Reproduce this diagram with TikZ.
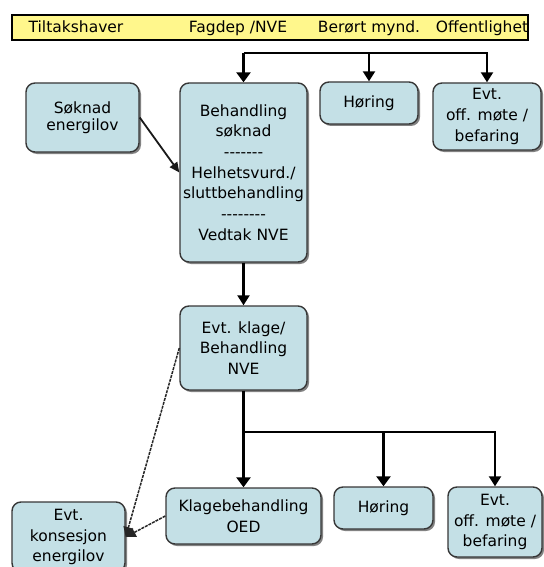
\documentclass[tikz,border=0pt]{standalone}
\usepackage{fontspec}
\setmainfont{DejaVu Sans}[Ligatures=TeXOff]
\usetikzlibrary{arrows.meta,shadows}
\definecolor{boxfill}{RGB}{196,224,230}
\definecolor{boxline}{RGB}{55,55,55}
\definecolor{hdrfill}{RGB}{255,247,140}
\definecolor{shadowc}{RGB}{130,130,130}
\newcommand{\dfont}{\fontsize{15.5}{20.7}\selectfont}
\tikzset{
  box/.style={draw=boxline, line width=1.4pt, fill=boxfill, rounded corners=9pt,
    align=center, inner sep=0pt, font=\dfont,
    drop shadow={shadow xshift=2pt, shadow yshift=-2pt, fill=shadowc, opacity=1}},
  hdrbox/.style={draw=black, line width=1.4pt, fill=hdrfill, inner sep=0pt},
  hdrtext/.style={font=\dfont, anchor=base, inner sep=0pt},
  thickconn/.style={line width=2.8pt, -{Triangle[width=14pt,length=10pt]}},
  medconn/.style={line width=2.2pt, -{Triangle[width=12pt,length=10pt]}},
  thinconn/.style={line width=1.8pt, draw=black!90, -{Triangle[width=9pt,length=10pt]}},
  dotconn/.style={line width=1.5pt, draw=black!85, dash pattern=on 3pt off 1pt, -{Triangle[width=10pt,length=10pt]}}
}
\begin{document}
\begin{tikzpicture}[x=1pt,y=-1pt]
\useasboundingbox (0,0) rectangle (543,567);
% header
\node[hdrbox, minimum width=516pt, minimum height=25pt] (hdr) at (270,27.5) {};
\node[hdrtext] (h1) at (76,33) {Tiltakshaver};
\node[hdrtext] (h2) at (238,33) {Fagdep /NVE};
\node[hdrtext] (h3) at (369,33) {Berørt mynd.};
\node[hdrtext] (h4) at (482,33) {Offentlighet};
% boxes
\node[box, minimum width=113pt, minimum height=69pt, font=\fontsize{15.5}{17}\selectfont] (son) at (82.5,117.5) {Søknad\\energilov};
\node[box, minimum width=127pt, minimum height=179pt] (beh) at (243.5,172.5) {Behandling\\søknad\\-------\\Helhetsvurd./\\sluttbehandling\\--------\\Vedtak NVE};
\node[box, minimum width=98pt, minimum height=42pt] (hor1) at (369,103) {Høring};
\node[box, minimum width=108pt, minimum height=67pt] (evt1) at (487,116.5) {Evt.\\off. møte /\\befaring};
\node[box, minimum width=127pt, minimum height=84pt] (klage) at (243.5,348) {Evt. klage/\\Behandling\\NVE};
\node[box, minimum width=155pt, minimum height=56pt] (oed) at (243.5,516) {Klagebehandling\\OED};
\node[box, minimum width=99pt, minimum height=42pt] (hor2) at (383.5,508) {Høring};
\node[box, minimum width=94pt, minimum height=70pt] (evt2) at (495,522) {Evt.\\off. møte /\\befaring};
\node[box, minimum width=113pt, minimum height=70pt] (kons) at (68.5,537) {Evt.\\konsesjon\\energilov};
% connectors top
\coordinate (t0) at (243.5,53);
\coordinate (t1) at (369,53);
\draw[line width=2.8pt] (t0) -- (t1);
\draw[thickconn] (t0) -- (beh.north);
\draw[medconn] (t1) -- (hor1.north);
\draw[medconn] (t1) -| (evt1.north);
% middle
\draw[thinconn] (son.east) -- (beh.west);
\draw[medconn] (beh.south) -- (klage.north);
% bottom
\coordinate (b0) at (243.5,432);
\coordinate (b1) at (383.5,432);
\draw[line width=2.8pt] (klage.south) -- (b0) -- (b1);
\draw[thickconn] (b0) -- (oed.north);
\draw[thickconn] (b1) -- (hor2.north);
\draw[medconn] (b1) -| (evt2.north);
\draw[dotconn] (klage.west) -- (kons.east);
\draw[dotconn] (oed.west) -- (kons.east);
\end{tikzpicture}
\end{document}
